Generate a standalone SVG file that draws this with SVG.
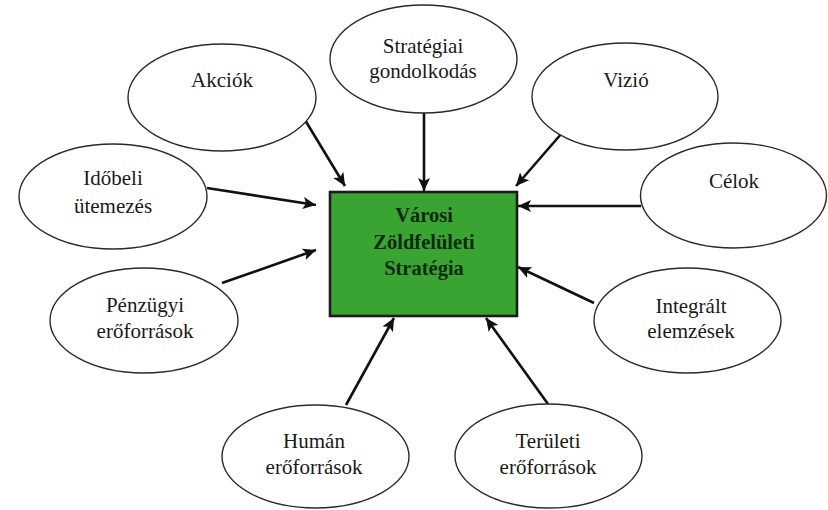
<svg xmlns="http://www.w3.org/2000/svg" width="828" height="510" viewBox="0 0 828 510">
<defs>
<style>
.node ellipse{fill:#fff;stroke:#2a2a2a;stroke-width:1.4}
.lbl{font-size:21px;fill:#1a1a1a;text-anchor:middle}
.ctr{font-size:20.5px;font-weight:bold;fill:#0d2a0d;text-anchor:middle}
.conn line{stroke:#111;stroke-width:2.6;marker-end:url(#ah)}
</style>
<marker id="ah" markerUnits="userSpaceOnUse" markerWidth="14" markerHeight="12" refX="13" refY="6" orient="auto">
<path d="M0,0 L13,6 L0,12 L3,6 Z" fill="#111"/>
</marker>
</defs>
<rect width="828" height="510" fill="#fff"/>
<g id="connectors" class="conn">
<line x1="302" y1="115" x2="345" y2="186"/>
<line x1="424" y1="113" x2="424" y2="191"/>
<line x1="562" y1="133" x2="516" y2="186"/>
<line x1="641" y1="206" x2="518" y2="206"/>
<line x1="207" y1="188" x2="316" y2="205"/>
<line x1="222" y1="283" x2="316" y2="250"/>
<line x1="346" y1="405" x2="394" y2="318"/>
<line x1="548" y1="404" x2="486" y2="318"/>
<line x1="594" y1="303" x2="518" y2="267"/>
</g>
<g font-family="'Liberation Serif', Tinos, 'Times New Roman', 'DejaVu Serif', serif">
<g id="center">
<rect x="330" y="192" width="187" height="124" fill="#3aa432" stroke="#1c1c1c" stroke-width="2.6"/>
<text class="ctr" x="424" y="222">Városi</text>
<text class="ctr" x="424" y="249">Zöldfelületi</text>
<text class="ctr" x="424" y="275">Stratégia</text>
</g>
<g id="akciok" class="node">
<ellipse cx="222" cy="97.5" rx="94" ry="53.5"/>
<text class="lbl" x="222" y="87">Akciók</text>
</g>
<g id="strategiai" class="node">
<ellipse cx="423.5" cy="59" rx="93.5" ry="54"/>
<text class="lbl" x="423" y="53">Stratégiai</text>
<text class="lbl" x="423" y="78">gondolkodás</text>
</g>
<g id="vizio" class="node">
<ellipse cx="625" cy="96.5" rx="93" ry="53.5"/>
<text class="lbl" x="626" y="87">Vizió</text>
</g>
<g id="celok" class="node">
<ellipse cx="733.5" cy="195.5" rx="93" ry="52.5"/>
<text class="lbl" x="734" y="188">Célok</text>
</g>
<g id="idobeli" class="node">
<ellipse cx="113" cy="196.5" rx="94" ry="52.5"/>
<text class="lbl" x="113" y="185">Időbeli</text>
<text class="lbl" x="113" y="213">ütemezés</text>
</g>
<g id="penzugyi" class="node">
<ellipse cx="144" cy="320.5" rx="94" ry="52.5"/>
<text class="lbl" x="145" y="312">Pénzügyi</text>
<text class="lbl" x="145" y="338">erőforrások</text>
</g>
<g id="human" class="node">
<ellipse cx="315.5" cy="456.5" rx="93.5" ry="51.5"/>
<text class="lbl" x="314" y="448">Humán</text>
<text class="lbl" x="314" y="474">erőforrások</text>
</g>
<g id="teruleti" class="node">
<ellipse cx="548.5" cy="456" rx="93.5" ry="52"/>
<text class="lbl" x="548" y="448">Területi</text>
<text class="lbl" x="548" y="474">erőforrások</text>
</g>
<g id="integralt" class="node">
<ellipse cx="687.5" cy="320.5" rx="93.5" ry="52.5"/>
<text class="lbl" x="691" y="313">Integrált</text>
<text class="lbl" x="691" y="338">elemzések</text>
</g>
</g>
</svg>
